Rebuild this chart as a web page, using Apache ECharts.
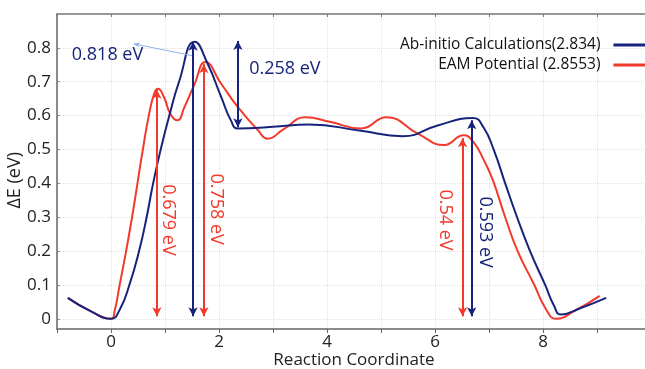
<!DOCTYPE html>
<html>
<head>
<meta charset="utf-8">
<script src="https://cdn.jsdelivr.net/npm/echarts@6/dist/echarts.min.js"></script>
<style>
  html, body { margin: 0; padding: 0; background: #fff; }
  #main { width: 645px; height: 369px; }
</style>
</head>
<body>
<div id="main"></div>
<script>
// curve points: [reaction coordinate, dE]
var abInitio = [
  [-0.8, 0.062], [-0.37, 0.022], [0, 0], [0.17, 0.03], [0.34, 0.1], [0.52, 0.2],
  [0.66, 0.3], [0.78, 0.4], [0.92, 0.5], [1.08, 0.6], [1.26, 0.7], [1.55, 0.818],
  [1.79, 0.753], [2.04, 0.655], [2.22, 0.586], [2.35, 0.562],
  [3.0, 0.567], [3.67, 0.574], [4.63, 0.555], [5.4, 0.539], [6.05, 0.571],
  [6.7, 0.593], [6.9, 0.565], [7.09, 0.498], [7.3, 0.4], [7.52, 0.3], [7.76, 0.2],
  [8.04, 0.1], [8.2, 0.04], [8.33, 0.013], [8.7, 0.032], [9.17, 0.062]
];
var eam = [
  [-0.8, 0.062], [-0.37, 0.022], [0, 0], [0.07, 0.025], [0.16, 0.1], [0.28, 0.2],
  [0.39, 0.3], [0.49, 0.4], [0.59, 0.5], [0.7, 0.6], [0.8, 0.665], [0.87, 0.679],
  [0.98, 0.655], [1.1, 0.605], [1.23, 0.586], [1.36, 0.625], [1.54, 0.69],
  [1.75, 0.758], [2.04, 0.694], [2.35, 0.625], [2.72, 0.557], [2.9, 0.532],
  [3.2, 0.56], [3.6, 0.595], [4.07, 0.581], [4.63, 0.562], [5.1, 0.595],
  [5.68, 0.547], [6.17, 0.513], [6.53, 0.542], [6.72, 0.52], [6.9, 0.47],
  [7.07, 0.41], [7.3, 0.3], [7.53, 0.2], [7.84, 0.1], [8.05, 0.03], [8.24, 0],
  [8.6, 0.025], [9.05, 0.068]
];
var seriesNames = ['Ab-initio Calculations(2.834)', 'EAM Potential (2.8553)'];
var xLabels = [0, 2, 4, 6, 8];
var yLabels = [0, 0.1, 0.2, 0.3, 0.4, 0.5, 0.6, 0.7, 0.8];

// energy arrows: [x, from, to]
var blueArrows = [[1.52, 0.008, 0.818], [2.35, 0.566, 0.82], [6.68, 0.008, 0.586]];
var redArrows = [[0.85, 0.008, 0.676], [1.72, 0.008, 0.752], [6.51, 0.008, 0.533]];
// text notes: [x, y, text, rotated]
var blueNotes = [[-0.065, 0.779, '0.818 eV', false], [3.22, 0.738, '0.258 eV', false], [6.92, 0.256, '0.593 eV', true]];
var redNotes = [[1.05, 0.292, '0.679 eV', true], [1.94, 0.324, '0.758 eV', true], [6.19, 0.292, '0.54 eV', true]];
// thin pointer from peak to its label
var pointer = [[1.5, 0.777], [0.42, 0.812]];

var BLUE = '#17237a';
var RED = '#f23a2c';
var FONT = 'Open Sans';

function arrowLines(list) {
  return list.map(function (a) {
    return [{ coord: [a[0], a[1]] }, { coord: [a[0], a[2]] }];
  });
}
function noteSeries(list, color) {
  return {
    type: 'scatter',
    symbolSize: 0,
    silent: true,
    z: 5,
    itemStyle: { opacity: 1 },
    data: list.map(function (n) {
      return {
        value: [n[0], n[1]],
        label: { show: true, position: 'inside', formatter: n[2], rotate: n[3] ? -90 : 0 }
      };
    }),
    label: { color: color, opacity: 1, fontSize: 18, fontFamily: FONT, textBorderWidth: 0, textBorderColor: 'transparent' }
  };
}

var chart = echarts.init(document.getElementById('main'));
chart.setOption({
  animation: false,
  grid: { left: 57, right: -6, top: 14, bottom: 40, outerBoundsMode: 'none' },
  legend: {
    data: seriesNames,
    orient: 'vertical',
    align: 'right',
    left: 395,
    top: 32,
    itemWidth: 40,
    itemHeight: 3,
    itemGap: 4,
    icon: 'rect',
    textStyle: { fontSize: 15.5, color: '#111', fontFamily: FONT, padding: [0, 8, 0, 0] }
  },
  xAxis: [
    {
      type: 'value',
      min: -1,
      max: 10,
      interval: 1,
      name: 'Reaction Coordinate',
      nameLocation: 'middle',
      nameGap: 23,
      nameMoveOverlap: false,
      nameTextStyle: { fontSize: 17, color: '#222', fontFamily: FONT },
      axisLine: { onZero: false, lineStyle: { color: '#666', width: 1.5 } },
      axisTick: { show: true, length: 4, lineStyle: { color: '#666' } },
      axisLabel: { customValues: xLabels, fontSize: 17, color: '#222', fontFamily: FONT, margin: 5 },
      splitLine: { show: true, lineStyle: { color: '#e2e2e2', type: 'dotted' } }
    },
    {
      type: 'value',
      position: 'top',
      min: -1,
      max: 10,
      interval: 1,
      axisLine: { show: true, onZero: false, lineStyle: { color: '#777', width: 1.5 } },
      axisTick: { show: true, inside: true, length: 3, lineStyle: { color: '#777' } },
      axisLabel: { show: false },
      splitLine: { show: false }
    }
  ],
  yAxis: {
    type: 'value',
    min: -0.03,
    max: 0.9,
    axisLine: { show: true, onZero: false, lineStyle: { color: '#666', width: 1.5 } },
    axisTick: { show: true, inside: true, length: 3, customValues: yLabels, lineStyle: { color: '#888' } },
    axisLabel: { customValues: yLabels, fontSize: 17, color: '#222', fontFamily: FONT, margin: 6 },
    splitLine: { show: true, lineStyle: { color: '#e2e2e2', type: 'dotted' } }
  },
  graphic: [{
    type: 'text',
    left: 6,
    top: 152,
    rotation: Math.PI / 2,
    style: { text: 'ΔE (eV)', fill: '#222', font: '18px "Open Sans"' }
  }],
  series: [
    {
      type: 'line',
      name: seriesNames[0],
      data: abInitio,
      smooth: 0.5,
      showSymbol: false,
      color: BLUE,
      lineStyle: { width: 2, color: BLUE },
      z: 3,
      markLine: {
        silent: true,
        symbol: ['arrow', 'arrow'],
        symbolSize: [7, 9],
        label: { show: false },
        lineStyle: { color: BLUE, width: 2, type: 'solid' },
        data: arrowLines(blueArrows).concat([[
          { coord: pointer[0], symbol: 'none', lineStyle: { color: '#8fb2e6', width: 1, curveness: -0.25 } },
          { coord: pointer[1], symbol: 'arrow', symbolSize: [4, 6] }
        ]])
      }
    },
    {
      type: 'line',
      name: seriesNames[1],
      data: eam,
      smooth: 0.5,
      showSymbol: false,
      color: RED,
      lineStyle: { width: 2, color: RED },
      z: 2,
      markLine: {
        silent: true,
        symbol: ['arrow', 'arrow'],
        symbolSize: [7, 9],
        label: { show: false },
        lineStyle: { color: RED, width: 2, type: 'solid' },
        data: arrowLines(redArrows)
      }
    },
    noteSeries(blueNotes, BLUE),
    noteSeries(redNotes, RED)
  ]
});
</script>
</body>
</html>
